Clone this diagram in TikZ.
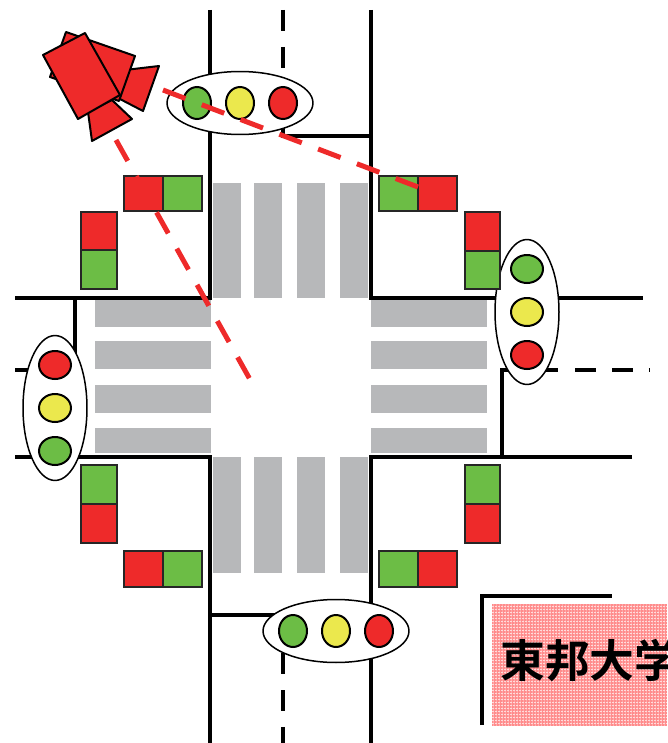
\documentclass[tikz,border=0pt]{standalone}
\usepackage{fontspec}
\newfontfamily\jpfont{Noto Sans CJK JP}[BoldFont={Noto Sans CJK JP Bold}]
\usetikzlibrary{shapes.geometric,patterns.meta}
\definecolor{sigred}{RGB}{238,42,42}
\definecolor{siggreen}{RGB}{108,189,69}
\definecolor{sigyellow}{RGB}{235,232,77}
\definecolor{zebragrey}{RGB}{183,184,186}

\begin{document}
\begin{tikzpicture}[x=0.02cm, y=-0.02cm,
    road/.style={line width=0.095cm, black},
    centre/.style={road, dash pattern=on 0.42cm off 0.32cm},
    zebra/.style={fill=zebragrey},
    housing/.style={ellipse, draw=black, line width=0.03cm, fill=white, inner sep=0pt},
    lamp/.style={ellipse, draw=black, line width=0.04cm, inner sep=0pt,
                 minimum width=0.56cm, minimum height=0.64cm},
    lampside/.style={lamp, minimum width=0.64cm, minimum height=0.56cm},
    walk/.style={draw=black!85, line width=0.04cm},
    cam/.style={fill=sigred, draw=black, line width=0.04cm, line join=round},
    sight/.style={draw=sigred, line width=0.1cm, dash pattern=on 0.48cm off 0.35cm}
]
    \useasboundingbox (0,0) rectangle (667,743);

    % zebra crossings
    \foreach \x in {213,254,297,340} {
        \fill[zebra] (\x,183) rectangle +(28,115);
        \fill[zebra] (\x,457) rectangle +(28,116);
    }
    \foreach \y/\h in {300/27,341/28,385/28,428/25} {
        \fill[zebra] (95,\y) rectangle +(116,\h);
        \fill[zebra] (371,\y) rectangle +(116,\h);
    }

    % kerbs
    \draw[road] (210,10) -- (210,298) -- (15,298);
    \draw[road] (371,10) -- (371,298) -- (643,298);
    \draw[road] (15,457) -- (210,457) -- (210,743);
    \draw[road] (632,457) -- (371,457) -- (371,743);

    % stop lines and lane markings
    \draw[road] (283,125) -- (283,136) -- (371,136);
    \draw[centre] (283,10) -- (283,125);
    \draw[road] (210,615) -- (283,615) -- (283,640);
    \draw[centre] (283,653) -- (283,743);
    \draw[road] (75,298) -- (75,370) -- (15,370);
    \draw[road] (502,457) -- (502,370) -- (558,370);
    \draw[centre] (575,370) -- (650,370);

    % car signals
    \node[housing, minimum width=2.92cm, minimum height=1.26cm] (lightN) at (240,103) {};
    \node[lamp, fill=siggreen]  (lightN-g) at (197,103) {};
    \node[lamp, fill=sigyellow] (lightN-y) at (240,103) {};
    \node[lamp, fill=sigred]    (lightN-r) at (283,103) {};

    \node[housing, minimum width=2.92cm, minimum height=1.26cm] (lightS) at (336,631) {};
    \node[lamp, fill=siggreen]  (lightS-g) at (293,631) {};
    \node[lamp, fill=sigyellow] (lightS-y) at (336,631) {};
    \node[lamp, fill=sigred]    (lightS-r) at (379,631) {};

    \node[housing, minimum width=1.28cm, minimum height=2.9cm] (lightW) at (55,408) {};
    \node[lampside, fill=sigred]    (lightW-r) at (55,365) {};
    \node[lampside, fill=sigyellow] (lightW-y) at (55,408) {};
    \node[lampside, fill=siggreen]  (lightW-g) at (55,451) {};

    \node[housing, minimum width=1.28cm, minimum height=2.9cm] (lightE) at (527,312) {};
    \node[lampside, fill=siggreen]  (lightE-g) at (527,269) {};
    \node[lampside, fill=sigyellow] (lightE-y) at (527,312) {};
    \node[lampside, fill=sigred]    (lightE-r) at (527,355) {};

    % pedestrian signals
    \draw[walk, fill=sigred]   (124,176) rectangle (163,211);
    \draw[walk, fill=siggreen] (163,176) rectangle (202,211);
    \draw[walk, fill=sigred]   (81,212) rectangle (117,250);
    \draw[walk, fill=siggreen] (81,250) rectangle (117,289);

    \draw[walk, fill=siggreen] (379,176) rectangle (418,211);
    \draw[walk, fill=sigred]   (418,176) rectangle (457,211);
    \draw[walk, fill=sigred]   (465,212) rectangle (500,251);
    \draw[walk, fill=siggreen] (465,251) rectangle (500,289);

    \draw[walk, fill=siggreen] (81,465) rectangle (117,504);
    \draw[walk, fill=sigred]   (81,504) rectangle (117,543);
    \draw[walk, fill=sigred]   (124,551) rectangle (163,587);
    \draw[walk, fill=siggreen] (163,551) rectangle (202,587);

    \draw[walk, fill=siggreen] (465,465) rectangle (500,504);
    \draw[walk, fill=sigred]   (465,504) rectangle (500,543);
    \draw[walk, fill=siggreen] (379,551) rectangle (418,587);
    \draw[walk, fill=sigred]   (418,551) rectangle (457,587);

    % campus block
    \fill[red!14] (492,604) rectangle (667,725);
    \fill[pattern={Lines[angle=0,distance=0.06cm,line width=0.022cm]}, pattern color=red!45]
        (492,604) rectangle (667,725);
    \fill[pattern={Lines[angle=90,distance=0.06cm,line width=0.022cm]}, pattern color=red!45]
        (492,604) rectangle (667,725);
    \draw[road] (482,725) -- (482,596) -- (612,596);
    \node[anchor=west, inner sep=0pt, font=\jpfont\bfseries\fontsize{25.5pt}{27pt}\selectfont]
        (campus) at (500,661) {東邦大学};

    % camera
    \filldraw[cam] (125,70) -- (159,66) -- (143,111) -- (118,98) -- cycle;
    \filldraw[cam] (88,112) -- (112,100) -- (132,119) -- (92,141) -- cycle;
    \filldraw[cam] (66,32) -- (135,56) -- (119,101) -- (50,77) -- cycle;
    \filldraw[cam] (43,55) -- (85,33) -- (120,95) -- (78,119) -- cycle;

    % lines of view
    \coordinate (lens) at (163,90);
    \coordinate (aimNE) at (418,187);
    \coordinate (base) at (116,140);
    \coordinate (aimC) at (252,383);
    \draw[sight] (lens) -- (aimNE);
    \draw[sight] (base) -- (aimC);
\end{tikzpicture}
\end{document}
